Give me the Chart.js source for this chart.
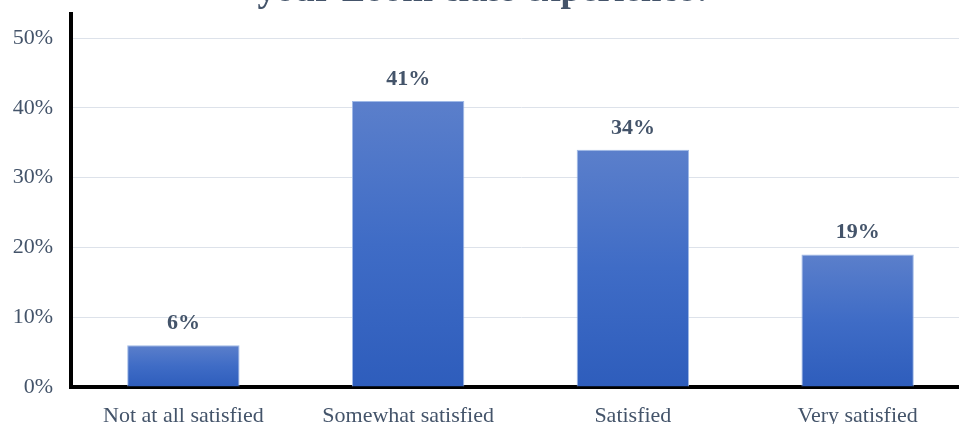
<!DOCTYPE html>
<html>
<head>
<meta charset="utf-8">
<title>Zoom class satisfaction</title>
<script src="https://cdn.jsdelivr.net/npm/chart.js@4"></script>
<style>
  html, body { margin: 0; padding: 0; background: #fff; overflow: hidden; }
  #wrap { width: 959px; height: 424px; overflow: hidden; position: relative; }
  #chartSatisfaction { position: absolute; left: 0; top: -40px; }
</style>
</head>
<body>
<div id="wrap">
  <canvas id="chartSatisfaction" width="972" height="470"></canvas>
</div>
<script>
// Survey answers and their share of responses (%)
const categories = ['Not at all satisfied', 'Somewhat satisfied', 'Satisfied', 'Very satisfied'];
const percentages = [6, 41, 34, 19];
const yTicks = [0, 10, 20, 30, 40, 50];
const titleLines = ['your Zoom class experience?'];

const textColor = '#44546a';
const serif = '"Liberation Serif", "Times New Roman", serif';

// vertical gradient per bar, light on top and darker at the base
function barGradient(ctx) {
    const chart = ctx.chart;
    if (!chart.chartArea || ctx.dataIndex === undefined) return '#3d6bc6';
    const y = chart.scales.y;
    const top = y.getPixelForValue(percentages[ctx.dataIndex]);
    const bottom = y.getPixelForValue(0);
    const g = chart.ctx.createLinearGradient(0, top, 0, bottom);
    g.addColorStop(0, '#5b7fcb');
    g.addColorStop(0.5, '#3f6cc6');
    g.addColorStop(1, '#2e5dbc');
    return g;
}

// value labels above the bars
const valueLabels = {
    id: 'valueLabels',
    afterDatasetsDraw(chart) {
        const ctx = chart.ctx;
        const meta = chart.getDatasetMeta(0);
        ctx.save();
        ctx.font = 'bold 22px ' + serif;
        ctx.fillStyle = textColor;
        ctx.textAlign = 'center';
        ctx.textBaseline = 'alphabetic';
        meta.data.forEach((bar, i) => {
            ctx.fillText(percentages[i] + '%', bar.x, bar.y - 16);
        });
        ctx.restore();
    }
};

new Chart(document.getElementById('chartSatisfaction'), {
    type: 'bar',
    data: {
        labels: categories,
        datasets: [{
            data: percentages,
            backgroundColor: barGradient,
            borderColor: 'rgba(150,178,228,0.9)',
            borderWidth: 1,
            categoryPercentage: 1,
            barPercentage: 0.5
        }]
    },
    options: {
        responsive: false,
        animation: false,
        layout: { padding: { left: 0, right: 2, top: 0, bottom: 0 } },
        plugins: {
            legend: { display: false },
            tooltip: { enabled: false },
            title: {
                display: true,
                text: titleLines,
                color: textColor,
                font: { family: serif, size: 37, weight: 'bold', lineHeight: 1 },
                padding: { top: 13, bottom: 4.4 }
            }
        },
        scales: {
            x: {
                grid: { display: false },
                border: { display: true, color: '#000', width: 4 },
                ticks: { color: textColor, font: { family: serif, size: 22 }, padding: 8, maxRotation: 0 },
                afterFit(scale) { scale.height = 43; }
            },
            y: {
                min: 0,
                max: 53.4,
                afterBuildTicks(scale) {
                    scale.ticks = yTicks.map(v => ({ value: v }));
                },
                grid: { color: '#dde2ea', lineWidth: 1, drawTicks: false },
                border: { display: true, color: '#000', width: 4 },
                ticks: {
                    color: textColor,
                    font: { family: serif, size: 22 },
                    padding: 18,
                    callback: v => v + '%'
                },
                afterFit(scale) { scale.width = 71; }
            }
        }
    },
    plugins: [valueLabels]
});
</script>
</body>
</html>
